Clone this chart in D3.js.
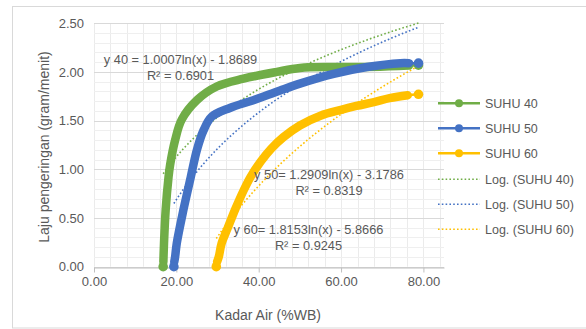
<!DOCTYPE html>
<html>
<head>
<meta charset="utf-8">
<script src="https://cdn.jsdelivr.net/npm/d3@7"></script>
<style>
  html, body { margin: 0; padding: 0; background: #ffffff; }
  svg { display: block; font-family: "Liberation Sans", Arial, sans-serif; }
</style>
</head>
<body>
<svg id="chart" width="586" height="329"></svg>
<script>
// ---------- DATA ----------
const seriesNames = ["SUHU 40", "SUHU 50", "SUHU 60"];
const trendNames = ["Log. (SUHU 40)", "Log. (SUHU 50)", "Log. (SUHU 60)"];

const suhu40X = [16.8, 16.85, 16.9, 17.0, 17.4, 18.1, 18.5, 19.7, 21.3, 25.0, 29.8, 36.3, 44.4, 50.0, 58.0, 66.0, 74.0, 76.5, 78.8];
const suhu40Y = [0.00, 0.05, 0.12, 0.24, 0.58, 0.92, 1.05, 1.30, 1.51, 1.71, 1.85, 1.93, 2.00, 2.04, 2.05, 2.05, 2.06, 2.065, 2.07];

const suhu50X = [19.4, 19.5, 19.7, 20.1, 21.7, 23.5, 25.0, 26.6, 28.6, 33.0, 38.7, 45.2, 50.0, 58.2, 66.3, 74.4, 76.5, 78.8];
const suhu50Y = [0.00, 0.05, 0.10, 0.24, 0.58, 0.92, 1.20, 1.40, 1.54, 1.63, 1.71, 1.81, 1.88, 1.98, 2.05, 2.09, 2.09, 2.09];

const suhu60X = [29.7, 29.9, 30.3, 31.0, 32.5, 34.3, 36.3, 38.0, 40.5, 43.0, 46.0, 50.0, 55.0, 60.0, 63.7, 68.0, 71.8, 76.2, 78.8];
const suhu60Y = [0.00, 0.05, 0.10, 0.24, 0.40, 0.59, 0.78, 0.92, 1.08, 1.21, 1.33, 1.45, 1.55, 1.61, 1.65, 1.69, 1.73, 1.76, 1.77];

// logarithmic trendline coefficients: y = a ln(x) + b
const trendA = [1.0007, 1.2909, 1.8153];
const trendB = [-1.8689, -3.1786, -5.8666];
const trendLabels = ["y 40 = 1.0007ln(x) - 1.8689", "y 50= 1.2909ln(x) - 3.1786", "y 60= 1.8153ln(x) - 5.8666"];
const r2Labels = ["R² = 0.6901", "R² = 0.8319", "R² = 0.9245"];

const xTicks = [0, 20, 40, 60, 80];
const yTicks = [0, 0.5, 1.0, 1.5, 2.0, 2.5];
const xTitle = "Kadar Air (%WB)";
const yTitle = "Laju pengeringan (gram/menit)";

// ---------- LAYOUT ----------
const colors = ["#70AD47", "#4472C4", "#FFC000"];
const trendColors = ["#70AD47", "#4472C4", "#FFC000"];
const textColor = "#595959";

const svg = d3.select("#chart");
const x = d3.scaleLinear().domain([0, 85]).range([94, 444]);
const y = d3.scaleLinear().domain([0, 2.5]).range([266.7, 23.2]);

// chart border
svg.append("rect").attr("x", 12.5).attr("y", 6.5).attr("width", 590).attr("height", 321.5)
  .attr("fill", "#fff").attr("stroke", "#d9d9d9").attr("stroke-width", 1);

// minor gridlines
const g = svg.append("g");
const minorX = d3.range(0, 85.01, 4);
g.selectAll("line.vx").data(minorX).join("line")
  .attr("x1", d => Math.round(x(d)) + 0.5).attr("x2", d => Math.round(x(d)) + 0.5)
  .attr("y1", y(2.5)).attr("y2", y(0))
  .attr("stroke", "#ebebeb").attr("stroke-width", 1);
const minorY = d3.range(0, 2.501, 0.1);
g.selectAll("line.hy").data(minorY).join("line")
  .attr("x1", x(0)).attr("x2", x(85))
  .attr("y1", d => Math.round(y(d)) + 0.5).attr("y2", d => Math.round(y(d)) + 0.5)
  .attr("stroke", "#efefef").attr("stroke-width", 1);
// major horizontal gridlines
g.selectAll("line.my").data(yTicks).join("line")
  .attr("x1", x(0)).attr("x2", x(85))
  .attr("y1", d => Math.round(y(d)) + 0.5).attr("y2", d => Math.round(y(d)) + 0.5)
  .attr("stroke", "#d9d9d9").attr("stroke-width", 1);

// x axis
const xAxis = d3.axisBottom(x).tickValues(xTicks).tickFormat(d3.format(".2f")).tickSize(5).tickSizeOuter(0);
const xg = svg.append("g").attr("transform", `translate(0,${Math.round(y(0)) + 0.5})`).call(xAxis);
xg.select(".domain").attr("stroke", "#bfbfbf");
xg.selectAll(".tick line").attr("stroke", "#bfbfbf");
xg.selectAll(".tick text").attr("fill", textColor).attr("font-size", "13px")
  .attr("font-family", "'Liberation Sans', Arial, sans-serif").attr("dy", "0.95em").attr("y", 6);

// y axis (labels only)
const yAxis = d3.axisLeft(y).tickValues(yTicks).tickFormat(d3.format(".2f")).tickSize(0);
const yg = svg.append("g").attr("transform", `translate(${x(0)},0)`).call(yAxis);
yg.select(".domain").remove();
yg.selectAll(".tick text").attr("fill", textColor).attr("font-size", "13px")
  .attr("font-family", "'Liberation Sans', Arial, sans-serif").attr("x", -10);

// axis titles
svg.append("text").attr("x", 268).attr("y", 320).attr("text-anchor", "middle")
  .attr("fill", textColor).attr("font-size", "14px").text(xTitle);
svg.append("text").attr("transform", "translate(49,147) rotate(-90)").attr("text-anchor", "middle")
  .attr("fill", textColor).attr("font-size", "14px").text(yTitle);

// ---------- TRENDLINES ----------
const seriesData = [
  suhu40X.map((v, i) => [v, suhu40Y[i]]),
  suhu50X.map((v, i) => [v, suhu50Y[i]]),
  suhu60X.map((v, i) => [v, suhu60Y[i]])
];
const tline = d3.line().x(d => x(d[0])).y(d => y(d[1]));
seriesData.forEach((data, k) => {
  const [x0, x1] = d3.extent(data, d => d[0]);
  const pts = d3.range(0, 101).map(i => {
    const xv = x0 + (x1 - x0) * i / 100;
    return [xv, trendA[k] * Math.log(xv) + trendB[k]];
  });
  svg.append("path").attr("d", tline(pts)).attr("fill", "none")
    .attr("stroke", trendColors[k]).attr("stroke-width", 1.6)
    .attr("stroke-dasharray", "1.6,2.2").attr("stroke-linecap", "butt");
});

// ---------- SERIES ----------
const sline = d3.line().x(d => x(d[0])).y(d => y(d[1])).curve(d3.curveCatmullRom.alpha(0.5));
seriesData.forEach((data, k) => {
  const c = colors[k];
  // thin connecting line through all points
  svg.append("path").attr("d", sline(data)).attr("fill", "none")
    .attr("stroke", c).attr("stroke-width", 2.5);
  // dense band of markers (interior points)
  const inner = data.slice(1, data.length - 1);
  svg.append("path").attr("d", sline(inner)).attr("fill", "none")
    .attr("stroke", c).attr("stroke-width", 8.5)
    .attr("stroke-linecap", "round").attr("stroke-linejoin", "round");
  // end markers
  svg.selectAll(null).data([data[0], data[data.length - 1]]).join("circle")
    .attr("cx", d => x(d[0])).attr("cy", d => y(d[1])).attr("r", 4.8).attr("fill", c);
});

// ---------- EQUATION LABELS ----------
const eqPos = [[180.5, 64, 80], [329, 179, 195], [308.5, 234, 250]];
eqPos.forEach((p, k) => {
  svg.append("text").attr("x", p[0]).attr("y", p[1]).attr("text-anchor", "middle")
    .attr("fill", textColor).attr("font-size", "12.8px").text(trendLabels[k]);
  svg.append("text").attr("x", p[0]).attr("y", p[2]).attr("text-anchor", "middle")
    .attr("fill", textColor).attr("font-size", "12.8px").text(r2Labels[k]);
});

// ---------- LEGEND ----------
const legY = [103.3, 128.3, 153.3, 179.3, 204.3, 229.3];
const lg = svg.append("g");
seriesNames.forEach((n, k) => {
  lg.append("line").attr("x1", 438).attr("x2", 480).attr("y1", legY[k]).attr("y2", legY[k])
    .attr("stroke", colors[k]).attr("stroke-width", 2.5);
  lg.append("circle").attr("cx", 459).attr("cy", legY[k]).attr("r", 4).attr("fill", colors[k]);
  lg.append("text").attr("x", 485).attr("y", legY[k]).attr("dy", "0.35em")
    .attr("fill", textColor).attr("font-size", "12.5px").text(n);
});
trendNames.forEach((n, k) => {
  const yy = legY[k + 3];
  lg.append("line").attr("x1", 438).attr("x2", 480).attr("y1", yy).attr("y2", yy)
    .attr("stroke", trendColors[k]).attr("stroke-width", 1.6).attr("stroke-dasharray", "1.6,2.2");
  lg.append("text").attr("x", 485).attr("y", yy).attr("dy", "0.35em")
    .attr("fill", textColor).attr("font-size", "12.5px").text(n);
});
</script>
</body>
</html>
